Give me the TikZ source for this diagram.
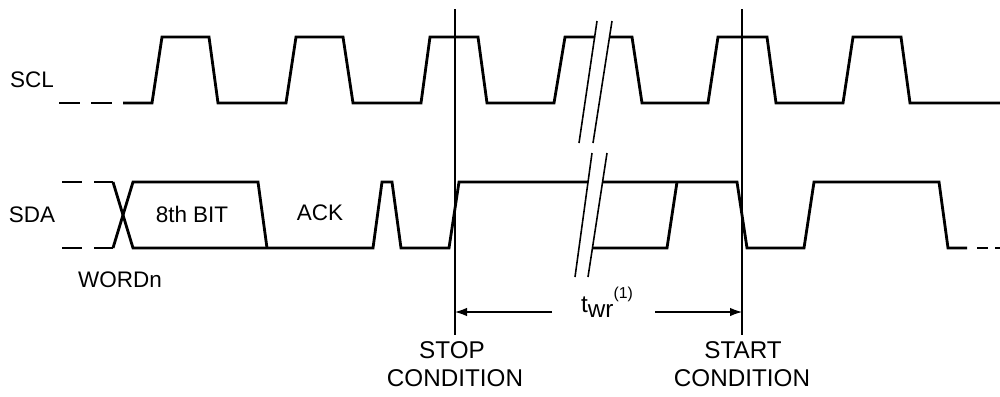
\documentclass[tikz,border=0pt]{standalone}
\usepackage{fontspec}
\setmainfont{Liberation Sans}
\usetikzlibrary{arrows.meta,positioning}
\tikzset{
wave/.style={line width=1.6pt, line join=miter, miter limit=20},
guide/.style={line width=0.6pt},
cut/.style={line width=0.9pt},
lbl/.style={inner sep=0pt, anchor=base, font=\fontsize{12.8}{15}\selectfont},
biglbl/.style={lbl, font=\fontsize{13.8}{16}\selectfont},
}

\begin{document}
\begin{tikzpicture}[x=0.02cm, y=-0.02cm, >={Latex[length=0.24cm,width=0.17cm]}]
        \useasboundingbox (0,0) rectangle (1000,396);

        % SCL
        \draw[wave] (59,103) -- (80,103) (91,103) -- (112,103);
        \draw[wave] (123,103) -- (152,103) -- (162,37) -- (209,37) -- (218,103) -- (286,103)
                -- (296,37) -- (343,37) -- (353,103) -- (421,103) -- (430,37) -- (478,37)
                -- (487,103) -- (554,103) -- (565,37) -- (595,37);
        \draw[wave] (610,37) -- (632,37) -- (642,103) -- (708,103) -- (718,37) -- (767,37)
                -- (776,103) -- (843,103) -- (853,37) -- (901,37) -- (910,103) -- (1000,103);

        % SDA
        \draw[wave] (62,182) -- (82,182) (94,182) -- (113,182);
        \draw[wave] (62,248) -- (82,248) (94,248) -- (113,248);
        \draw[wave] (113,248) -- (133,182) -- (258,182) -- (267,248);
        \draw[wave] (113,182) -- (133,248) -- (373,248) -- (382,182) -- (392,182) -- (401,248)
                -- (449,248) -- (459,182) -- (588,182);
        \draw[wave] (603,182) -- (737,182) -- (747,248) -- (804,248) -- (814,182) -- (939,182)
                -- (948,248) -- (967,248);
        \draw[wave] (593,248) -- (667,248) -- (677,182);
        \draw[wave] (977,248) -- (988,248) (995,248) -- (1000,248);

        % break marks
        \draw[cut] (597,21) -- (579,143) (612,21) -- (593,143);
        \draw[cut] (592,153) -- (575,277) (607,153) -- (588,277);

        % stop / start
        \coordinate (stoptop) at (455,9);
        \coordinate (stopbot) at (455,335);
        \coordinate (starttop) at (742,9);
        \coordinate (startbot) at (742,335);
        \draw[guide] (stoptop) -- (stopbot);
        \draw[guide] (starttop) -- (startbot);

        \node[lbl] (scl) at (32,87) {SCL};
        \node[lbl] (sda) at (32,222) {SDA};
        \node[lbl] (bit8) at (192,222) {8th BIT};
        \node[lbl] (ack) at (320,220) {ACK};
        \node[lbl] (wordn) at (120,287) {WORDn};
        \node[biglbl] (twr) at (607,312) {t\raisebox{-0.45ex}{wr}\raisebox{1.05ex}{\fontsize{9}{10}\selectfont(1)}};
        \node[biglbl] (stop) at (452,358) {STOP};
        \node[biglbl] (stopcond) at (455,386) {CONDITION};
        \node[biglbl] (start) at (743,358) {START};
        \node[biglbl] (startcond) at (742,386) {CONDITION};

        \coordinate (twrl) at (552,312);
        \coordinate (twrr) at (655,312);
        \draw[guide,->] (twrl) -- (twrl -| stopbot);
        \draw[guide,->] (twrr) -- (twrr -| startbot);
\end{tikzpicture}
\end{document}
